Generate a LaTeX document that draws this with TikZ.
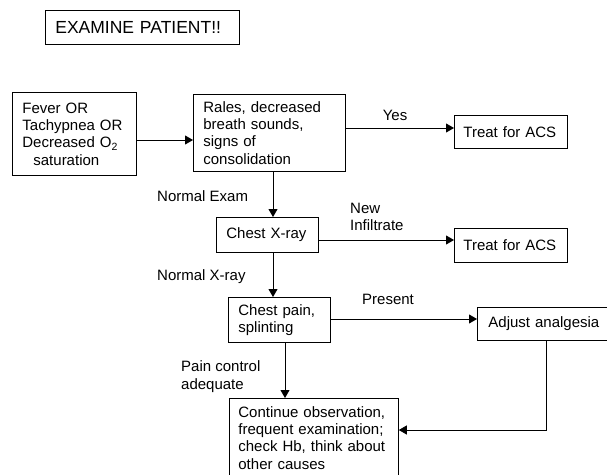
\documentclass[tikz,border=0pt]{standalone}
\usepackage{fontspec}
\setmainfont{Liberation Sans}
\usetikzlibrary{arrows.meta}
\begin{document}
\begin{tikzpicture}[x=1pt,y=1pt,
  box/.style={draw, line width=0.8pt, rectangle, inner xsep=10pt, inner ysep=0pt,
    align=left, anchor=north west, font=\fontsize{15}{17.3}\selectfont},
  lbl/.style={inner sep=0pt, align=left, font=\fontsize{15}{17.8}\selectfont},
  arr/.style={line width=0.8pt, -{Triangle[length=8pt,width=9pt]}},
  ln/.style={line width=0.8pt}]
\clip (0,0) rectangle (607,-474);
\fill[white] (0,0) rectangle (607,-474);
% boxes
\node[box, minimum width=194, minimum height=34, text width=174,
      font=\fontsize{17.5}{20}\selectfont] (exam) at (45,-10) {EXAMINE PATIENT!!};
\node[box, minimum width=124, minimum height=83, text width=104] (fever) at (12,-92)
  {Fever OR\\Tachypnea OR\\Decreased O\textsubscript{2}\\\hspace*{11pt}saturation};
\node[box, minimum width=152, minimum height=77, text width=132] (rales) at (193,-94)
  {Rales, decreased\\breath sounds,\\signs of\\consolidation};
\node[box, minimum width=113, minimum height=33, text width=95, inner xsep=9pt] (t1) at (454,-115)
  {Treat for ACS};
\node[box, minimum width=102, minimum height=35, text width=82] (xray) at (216,-217)
  {Chest X-ray};
\node[box, minimum width=113, minimum height=34, text width=95, inner xsep=9pt] (t2) at (454,-228)
  {Treat for ACS};
\node[box, minimum width=102, minimum height=45, text width=82] (cpain) at (228,-297)
  {Chest pain,\\splinting};
\node[box, minimum width=180, minimum height=33, text width=158, inner xsep=11pt] (adj) at (477,-307)
  {Adjust analgesia};
\node[box, minimum width=169, minimum height=79, text width=151, inner xsep=9pt] (cont) at (229,-398)
  {Continue observation,\\frequent examination;\\check Hb, think about\\other causes};
% connectors
\draw[arr] (fever.east |- 0,-140) -- (rales.west |- 0,-140);
\draw[arr] (rales.east |- 0,-128) -- (t1.west |- 0,-128);
\draw[arr] (rales.south -| 273,0) -- (xray.north -| 273,0);
\draw[arr] (xray.east |- 0,-240) -- (t2.west |- 0,-240);
\draw[arr] (xray.south -| 273,0) -- (cpain.north -| 273,0);
\draw[arr] (cpain.east |- 0,-319) -- (adj.west |- 0,-319);
\draw[arr] (cpain.south -| 285,0) -- (cont.north -| 285,0);
\draw[arr] (adj.south -| 546,0) |- (cont.east |- 0,-430);
% labels
\node[lbl, anchor=center] (lyes) at (395,-115) {Yes};
\node[lbl, anchor=west] (lnexam) at (157,-196) {Normal Exam};
\node[lbl, anchor=west] (lnew) at (350,-217) {New\\Infiltrate};
\node[lbl, anchor=west] (lnxray) at (157,-277) {Normal X-ray};
\node[lbl, anchor=west] (lpres) at (362,-299) {Present};
\node[lbl, anchor=west] (lpain) at (181,-377) {Pain control\\adequate};
\end{tikzpicture}
\end{document}
